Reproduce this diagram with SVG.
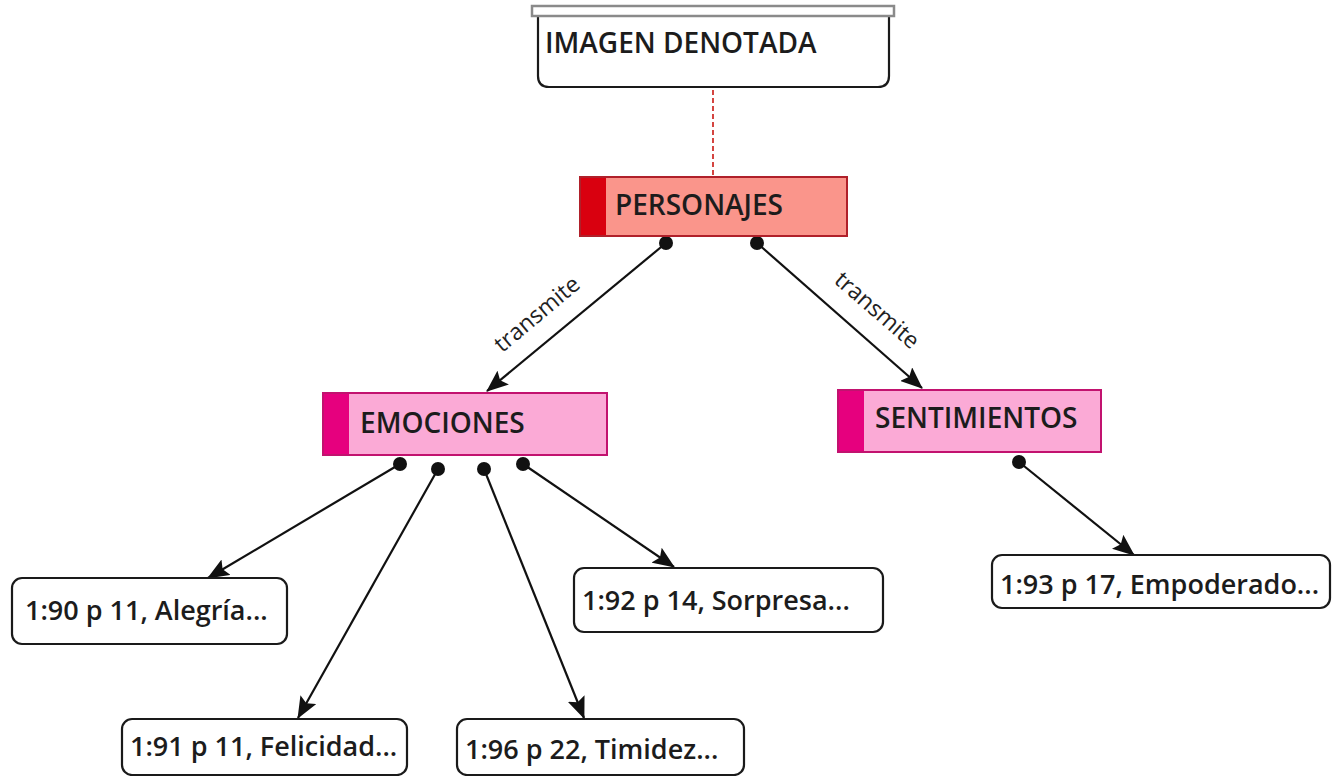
<svg xmlns="http://www.w3.org/2000/svg" width="1334" height="776" viewBox="0 0 1334 776">
  <style>
    .lbl { font-family: "Open Sans", "Noto Sans", "Liberation Sans", sans-serif; font-weight: 600; fill: #1c1c1c; }
    .big { font-size: 28px; }
    .item { font-size: 27px; }
    .card { fill: #fff; stroke: #1a1a1a; stroke-width: 2.2; }
    .edge { stroke: #111; stroke-width: 2.2; fill: none; marker-end: url(#arrow); }
    .dot { fill: #111; }
    .rel { font-family: "Open Sans", "Noto Sans", "Liberation Sans", sans-serif; font-size: 23px; fill: #222; }
  </style>
  <defs>
    <marker id="arrow" viewBox="0 0 22 18" refX="21" refY="9" markerWidth="22" markerHeight="18" markerUnits="userSpaceOnUse" orient="auto">
      <path d="M0,0 L22,9 L0,18 L4,9 Z" fill="#111"/>
    </marker>
  </defs>
  <rect width="1334" height="776" fill="#fff"/>

  <!-- connectors -->
  <g id="connectors">
    <line x1="713" y1="90" x2="713" y2="175" stroke="#d0312d" stroke-width="1.8" stroke-dasharray="5 3"/>
    <line class="edge" x1="666" y1="243" x2="487" y2="391"/>
    <line class="edge" x1="757" y1="243" x2="922" y2="388"/>
    <line class="edge" x1="400" y1="464" x2="208" y2="578"/>
    <line class="edge" x1="438" y1="469" x2="298" y2="718"/>
    <line class="edge" x1="484" y1="469" x2="584" y2="718"/>
    <line class="edge" x1="523" y1="464" x2="674" y2="567"/>
    <line class="edge" x1="1019" y1="462" x2="1134" y2="555"/>
    <circle class="dot" cx="666" cy="243" r="7"/>
    <circle class="dot" cx="757" cy="243" r="7"/>
    <circle class="dot" cx="400" cy="464" r="7"/>
    <circle class="dot" cx="438" cy="469" r="7"/>
    <circle class="dot" cx="484" cy="469" r="7"/>
    <circle class="dot" cx="523" cy="464" r="7"/>
    <circle class="dot" cx="1019" cy="462" r="7"/>
    <text class="rel" transform="translate(542,320) rotate(-40)" text-anchor="middle">transmite</text>
    <text class="rel" transform="translate(872,316) rotate(41)" text-anchor="middle">transmite</text>
  </g>

  <!-- top document node -->
  <g id="imagen-denotada">
    <path class="card" d="M538,16 V76 Q538,87 549,87 H878 Q889,87 889,76 V16"/>
    <rect x="532" y="6" width="362" height="10" fill="#fff" stroke="#8a8a8a" stroke-width="2.5"/>
    <text class="lbl big" x="545" y="53">IMAGEN DENOTADA</text>
  </g>

  <g id="personajes">
    <rect x="580" y="177" width="267" height="59" fill="#fa958b" stroke="#b0202a" stroke-width="2"/>
    <rect x="581" y="178" width="25" height="57" fill="#d9000f"/>
    <text class="lbl big" x="615" y="215">PERSONAJES</text>
  </g>

  <g id="emociones">
    <rect x="323" y="393" width="284" height="62" fill="#fbaad6" stroke="#c2126f" stroke-width="2"/>
    <rect x="324" y="394" width="25" height="60" fill="#e6007e"/>
    <text class="lbl big" x="360" y="433">EMOCIONES</text>
  </g>

  <g id="sentimientos">
    <rect x="838" y="390" width="263" height="62" fill="#fbaad6" stroke="#c2126f" stroke-width="2"/>
    <rect x="839" y="391" width="25" height="60" fill="#e6007e"/>
    <text class="lbl big" x="875" y="428">SENTIMIENTOS</text>
  </g>

  <g id="alegria">
    <rect class="card" x="12" y="578" width="275" height="66" rx="10"/>
    <text class="lbl item" x="25" y="620">1:90 p 11, Alegría...</text>
  </g>

  <g id="sorpresa">
    <rect class="card" x="574" y="568" width="309" height="64" rx="10"/>
    <text class="lbl item" x="582" y="610">1:92 p 14, Sorpresa...</text>
  </g>

  <g id="empoderado">
    <rect class="card" x="992" y="555" width="338" height="53" rx="10"/>
    <text class="lbl item" x="1000" y="594">1:93 p 17, Empoderado...</text>
  </g>

  <g id="felicidad">
    <rect class="card" x="122" y="719" width="285" height="56" rx="10"/>
    <text class="lbl item" x="130" y="756">1:91 p 11, Felicidad...</text>
  </g>

  <g id="timidez">
    <rect class="card" x="457" y="719" width="287" height="56" rx="10"/>
    <text class="lbl item" x="465" y="759">1:96 p 22, Timidez...</text>
  </g>
</svg>
